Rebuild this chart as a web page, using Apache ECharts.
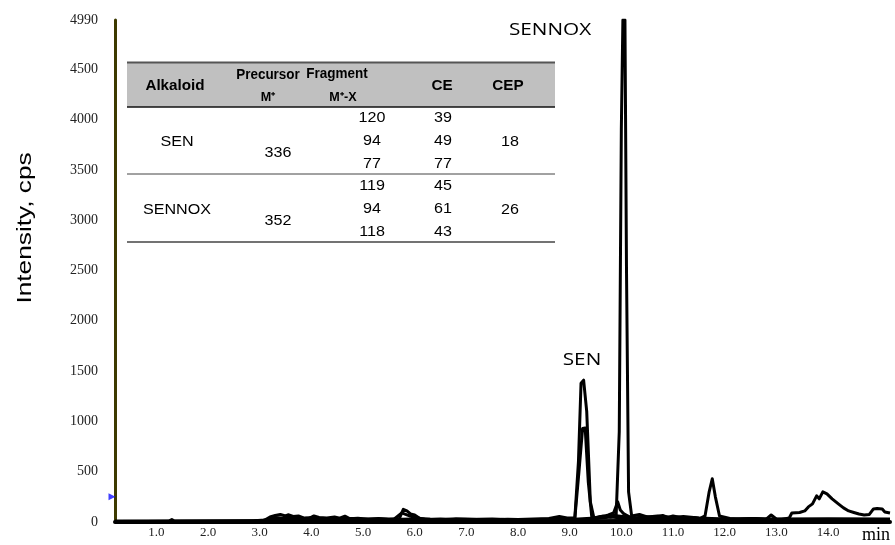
<!DOCTYPE html>
<html>
<head>
<meta charset="utf-8">
<script src="https://cdn.jsdelivr.net/npm/echarts@6/dist/echarts.min.js"></script>
<style>html,body{margin:0;padding:0;background:#fff;}#c{width:895px;height:545px;}</style>
</head>
<body>
<div id="c"></div>
<script>
// ---- data (time in min, intensity in cps) ----
const xTicks = [1,2,3,4,5,6,7,8,9,10,11,12,13,14];
const yTicks = [0,500,1000,1500,2000,2500,3000,3500,4000,4500,4990];

const senQuant = [[0.2,10],[1.25,12],[1.3,25],[1.35,10],[2.9,12],[3.1,20],[3.2,50],[3.3,65],[3.4,75],[3.5,60],[3.55,72],[3.65,55],[3.75,60],[3.85,40],[3.95,35],[4.05,60],[4.15,45],[4.3,40],[4.45,50],[4.55,38],[4.65,58],[4.75,32],[4.9,38],[5.1,28],[5.3,35],[5.5,28],[5.7,32],[5.78,125],[5.85,110],[5.92,80],[6.0,70],[6.1,35],[6.3,28],[6.6,25],[6.8,32],[7.0,30],[7.2,24],[7.5,22],[7.8,28],[8.0,25],[8.3,30],[8.6,35],[8.8,55],[8.95,40],[9.1,40],[9.17,600],[9.22,1380],[9.27,1410],[9.33,1100],[9.4,200],[9.47,40],[9.6,55],[9.7,50],[9.85,65],[10.3,40],[10.45,55],[10.6,45],[10.8,65],[10.9,45],[11.0,60],[11.2,40],[11.4,45],[11.6,30],[12.2,25],[12.5,35],[12.8,30],[13.3,30],[14.0,30],[15.2,30]];
const senQual = [[0.2,5],[3.0,8],[3.2,30],[3.3,45],[3.45,38],[3.6,50],[3.8,35],[4.0,42],[4.2,30],[4.4,36],[4.6,30],[4.8,34],[5.0,25],[5.3,30],[5.6,28],[5.75,90],[5.9,60],[6.2,25],[6.5,30],[7.0,20],[7.4,26],[8.0,20],[8.4,26],[8.7,30],[9.1,35],[9.18,500],[9.25,930],[9.3,935],[9.36,400],[9.43,40],[9.6,40],[9.8,50],[10.2,30],[10.5,45],[11.0,35],[11.3,40],[12.0,20],[12.4,28],[13.0,20],[14.0,25],[15.2,25]];
const sennoxQuant = [[0.2,5],[3.0,10],[3.3,35],[3.6,28],[4.0,40],[4.5,30],[5.0,30],[5.5,25],[6.0,30],[6.5,22],[7.0,25],[7.5,30],[8.0,20],[8.5,25],[9.0,25],[9.5,40],[9.65,60],[9.8,50],[9.9,70],[9.96,900],[10.0,3900],[10.03,4990],[10.07,4990],[10.1,2500],[10.14,300],[10.2,60],[10.35,75],[10.5,50],[10.7,60],[11.0,45],[11.2,55],[11.5,40],[12.0,30],[12.6,35],[13.0,25],[14.0,30],[15.2,25]];
const sennoxQual = [[0.2,3],[3.2,15],[4.0,20],[5.0,18],[6.0,15],[7.0,20],[8.0,15],[9.0,20],[9.5,30],[9.75,70],[9.85,90],[9.93,200],[9.98,120],[10.05,80],[10.2,40],[10.6,50],[11.0,30],[12.0,20],[15.2,20]];
const trace5 = [[0.2,2],[5.0,8],[9.0,10],[10.0,15],[11.0,25],[11.5,30],[11.62,60],[11.7,300],[11.76,430],[11.82,250],[11.9,60],[12.1,35],[12.4,25],[12.8,25],[12.9,70],[13.0,30],[13.3,25],[15.2,20]];
const trace6 = [[0.2,2],[8.0,5],[10.0,10],[11.0,15],[12.0,10],[13.0,15],[13.25,40],[13.3,90],[13.45,95],[13.55,110],[13.62,150],[13.7,180],[13.78,260],[13.83,230],[13.9,300],[13.98,280],[14.08,230],[14.2,180],[14.3,140],[14.4,110],[14.5,95],[14.6,80],[14.7,70],[14.8,75],[14.88,130],[14.95,135],[15.05,130],[15.1,100],[15.2,90]];
const marker = [[0.2,250]];

// table content
const tableHeader = [['Alkaloid'],['Precursor','M⁺'],['Fragment','M⁺-X'],['CE'],['CEP']];
const senRows = {name:'SEN', precursor:'336', fragments:['120','94','77'], ce:['39','49','77'], cep:'18'};
const sennoxRows = {name:'SENNOX', precursor:'352', fragments:['119','94','118'], ce:['45','61','43'], cep:'26'};

const traces = [senQuant, senQual, sennoxQuant, sennoxQual, trace5, trace6];

const chart = echarts.init(document.getElementById('c'), null, {renderer:'canvas'});

const SERIF = '"Liberation Serif","DejaVu Serif",serif';
const SANS = '"Liberation Sans",Arial,sans-serif';

function txt(text, cx, cy, font, sx, color){
  return {type:'text', x:cx, y:cy, scaleX:sx||1, z:100,
    style:{text:text, x:0, y:0, align:'center', verticalAlign:'middle', font:font, fill:color||'#000'}};
}

const graphics = [];
// table background and rules
graphics.push({type:'rect', shape:{x:127,y:62,width:428,height:45}, style:{fill:'#c0c0c0'}, z:90});
graphics.push({type:'line', shape:{x1:127,y1:62.5,x2:555,y2:62.5}, style:{stroke:'#555',lineWidth:2}, z:91});
graphics.push({type:'line', shape:{x1:127,y1:107,x2:555,y2:107}, style:{stroke:'#111',lineWidth:1.5}, z:91});
graphics.push({type:'line', shape:{x1:127,y1:174,x2:555,y2:174}, style:{stroke:'#444',lineWidth:1}, z:91});
graphics.push({type:'line', shape:{x1:127,y1:242,x2:555,y2:242}, style:{stroke:'#444',lineWidth:1.5}, z:91});
const HF = 'bold 14.5px ' + SANS;
const BF = '14px ' + SANS;
graphics.push(txt(tableHeader[0][0], 175, 86, HF, 1.05));
graphics.push(txt(tableHeader[1][0], 268, 75, HF, 0.93));
graphics.push(txt(tableHeader[1][1], 268, 98, 'bold 12px ' + SANS, 1.05));
graphics.push(txt(tableHeader[2][0], 337, 74, HF, 0.93));
graphics.push(txt(tableHeader[2][1], 343, 98, 'bold 12px ' + SANS, 1.05));
graphics.push(txt(tableHeader[3][0], 442, 86, HF, 1.05));
graphics.push(txt(tableHeader[4][0], 508, 86, HF, 1.05));
[[senRows, 118], [sennoxRows, 186]].forEach(function(p){
  const r = p[0], y0 = p[1];
  graphics.push(txt(r.name, 177, y0+24, BF, 1.15));
  graphics.push(txt(r.precursor, 278, y0+35, BF, 1.15));
  graphics.push(txt(r.cep, 510, y0+24, BF, 1.15));
  for (let i=0;i<3;i++){
    graphics.push(txt(r.fragments[i], 372, y0+i*23, BF, 1.15));
    graphics.push(txt(r.ce[i], 443, y0+i*23, BF, 1.15));
  }
});
// annotations
graphics.push(txt('SENNOX', 550, 30, '17px "Open Sans",sans-serif', 1.22));
graphics.push(txt('SEN', 582, 360, '17px "Open Sans",sans-serif', 1.22));
graphics.push(txt('min', 876, 535, '18px ' + SERIF, 1.0));
graphics.push({type:'text', x:25, y:228, rotation:Math.PI/2, scaleX:1.25, z:100,
  style:{text:'Intensity, cps', x:0, y:0, align:'center', verticalAlign:'middle', font:'21px ' + SANS, fill:'#000'}});

const series = traces.map(function(d){
  return {type:'line', data:d, showSymbol:false, symbol:'none', silent:true,
    lineStyle:{color:'#000', width:3, join:'round'}, z:5};
});
series.push({type:'scatter', data:marker, symbol:'triangle', symbolSize:[7,7], symbolRotate:-90,
  symbolOffset:[-3,0], clip:false, itemStyle:{color:'#1010ff'}, z:6});

chart.setOption({
  animation:false,
  backgroundColor:'#fff',
  grid:{left:115, right:5, top:20, bottom:23, containLabel:false},
  xAxis:{type:'value', min:0.2, max:15.2,
    axisLine:{show:true, onZero:false, lineStyle:{color:'#000', width:4}},
    axisTick:{show:false},
    splitLine:{show:false},
    axisLabel:{customValues:xTicks, formatter:function(v){return v.toFixed(1);}, margin:4,
      fontFamily:SERIF, fontSize:13, color:'#222'}},
  yAxis:{type:'value', min:0, max:4990,
    axisLine:{show:true, lineStyle:{color:'#3d3a00', width:3}},
    axisTick:{show:false},
    splitLine:{show:false},
    axisLabel:{customValues:yTicks, formatter:function(v){return String(v);}, margin:17,
      fontFamily:SERIF, fontSize:14, color:'#222'}},
  graphic:graphics,
  series:series
});
</script>
</body>
</html>
